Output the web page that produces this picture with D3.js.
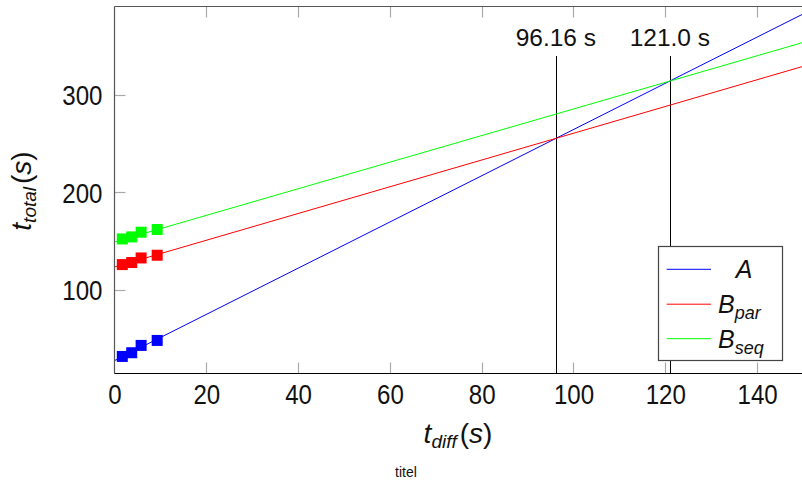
<!DOCTYPE html>
<html>
<head>
<meta charset="utf-8">
<script src="https://cdn.jsdelivr.net/npm/d3@7"></script>
<style>
  body { margin: 0; background: #fff; }
  svg { display: block; }
  text { font-family: "Liberation Sans", Arial, sans-serif; }
</style>
</head>
<body>
<svg id="chart" width="802" height="481"></svg>
<script>
// ---- data ----
const seriesNames = ["A", "B_par", "B_seq"];
const seriesColors = ["#0000ff", "#ff0000", "#00ff00"];
const xMeasured = [1.7, 3.75, 5.8, 9.3];
const yA    = [31.8, 35.6, 43.1, 48.2];
const yBpar = [126.0, 128.1, 132.8, 135.6];
const yBseq = [152.3, 154.4, 159.2, 162.0];
// linear fits: t_total = intercept + slope * t_diff
const fitIntercepts = [27.5, 123.5, 149.2];
const fitSlopes     = [2.37, 1.372, 1.364];
const crossings = [96.16, 121.0];
const crossingLabels = ["96.16 s", "121.0 s"];
const xTicks = [0, 20, 40, 60, 80, 100, 120, 140, 160];
const yTicks = [100, 200, 300];
const xDomain = [0, 155];
const yDomain = [14.3, 390.7];

(function () {
const svg = d3.select("#chart");
const pLeft = 114.5, pTop = 6.5, pBottom = 373.5, pRight = 114.5 + 155 * 4.59;
const x = d3.scaleLinear().domain(xDomain).range([pLeft, pRight]);
const y = d3.scaleLinear().domain(yDomain).range([pBottom, pTop]);

svg.append("defs").append("clipPath").attr("id", "clip")
  .append("rect").attr("x", pLeft).attr("y", pTop).attr("width", pRight - pLeft).attr("height", pBottom - pTop);

const tickLen = 11, tickColor = "#aaaaaa";
const g = svg.append("g");
xTicks.forEach(t => {
  if (t === 0) return;
  const px = Math.round(x(t)) + 0.5;
  g.append("line").attr("x1", px).attr("x2", px).attr("y1", pBottom).attr("y2", pBottom - tickLen)
    .attr("stroke", tickColor).attr("stroke-width", 1.2);
  g.append("line").attr("x1", px).attr("x2", px).attr("y1", pTop).attr("y2", pTop + tickLen)
    .attr("stroke", tickColor).attr("stroke-width", 1.2);
});
yTicks.forEach(t => {
  const py = Math.round(y(t)) + 0.5;
  g.append("line").attr("x1", pLeft).attr("x2", pLeft + tickLen).attr("y1", py).attr("y2", py)
    .attr("stroke", tickColor).attr("stroke-width", 1.2);
});

const narrow = sel => sel.attr("textLength", function () { return this.textContent.length * 13.4; })
  .attr("lengthAdjust", "spacingAndGlyphs");

const xAxis = d3.axisBottom(x).tickValues(xTicks.filter(t => t <= 150)).tickSize(0).tickPadding(0).tickFormat(d3.format("d"));
const xa = svg.append("g").attr("transform", `translate(0,${pBottom})`).call(xAxis);
xa.select(".domain").remove();
xa.selectAll("text").attr("font-size", 27.5).attr("fill", "#111")
  .attr("dy", null).attr("y", 30).call(narrow);

const yAxis = d3.axisLeft(y).tickValues(yTicks).tickSize(0).tickPadding(0).tickFormat(d3.format("d"));
const ya = svg.append("g").attr("transform", `translate(${pLeft},0)`).call(yAxis);
ya.select(".domain").remove();
ya.selectAll("text").attr("font-size", 27.5).attr("fill", "#111")
  .attr("x", -12).attr("dy", "0.36em").call(narrow);

crossings.forEach((c, i) => {
  const px = Math.round(x(c)) + 0.5;
  svg.append("line").attr("x1", px).attr("x2", px).attr("y1", 56).attr("y2", pBottom)
    .attr("stroke", "#000").attr("stroke-width", 1);
  svg.append("text").attr("x", x(c)).attr("y", 45.5).attr("text-anchor", "middle")
    .attr("font-size", 24.5).attr("fill", "#111").text(crossingLabels[i]);
});

const plot = svg.append("g").attr("clip-path", "url(#clip)");
fitIntercepts.forEach((a, i) => {
  const b = fitSlopes[i];
  plot.append("line")
    .attr("x1", x(xDomain[0])).attr("y1", y(a + b * xDomain[0]))
    .attr("x2", x(xDomain[1])).attr("y2", y(a + b * xDomain[1]))
    .attr("stroke", seriesColors[i]).attr("stroke-width", 1);
});

const ms = 11;
[yA, yBpar, yBseq].forEach((vals, i) => {
  plot.selectAll(null).data(vals).enter().append("rect")
    .attr("x", (d, j) => x(xMeasured[j]) - ms / 2)
    .attr("y", d => y(d) - ms / 2)
    .attr("width", ms).attr("height", ms)
    .attr("fill", seriesColors[i]);
});

svg.append("line").attr("x1", pLeft).attr("x2", 802).attr("y1", pTop).attr("y2", pTop).attr("stroke", "#555").attr("stroke-width", 1.2);
svg.append("line").attr("x1", pLeft).attr("x2", pLeft).attr("y1", pTop).attr("y2", pBottom).attr("stroke", "#555").attr("stroke-width", 1.2);
svg.append("line").attr("x1", pLeft).attr("x2", 802).attr("y1", pBottom).attr("y2", pBottom).attr("stroke", "#000").attr("stroke-width", 1.2);

const lg = svg.append("g");
lg.append("rect").attr("x", 658.5).attr("y", 246.5).attr("width", 124).attr("height", 114)
  .attr("fill", "#fff").attr("stroke", "#444").attr("stroke-width", 1.2);
const legY = [269.3, 304.2, 338.7];
seriesNames.forEach((n, i) => {
  lg.append("line").attr("x1", 666.7).attr("x2", 711).attr("y1", legY[i]).attr("y2", legY[i])
    .attr("stroke", seriesColors[i]).attr("stroke-width", 1);
  const parts = n.split("_");
  const t = lg.append("text").attr("y", legY[i] + 9).attr("font-size", 25).attr("font-style", "italic").attr("fill", "#111");
  if (parts.length === 1) {
    t.attr("x", 744).attr("text-anchor", "middle").text(parts[0]);
  } else {
    t.attr("x", 718);
    t.append("tspan").text(parts[0]);
    t.append("tspan").attr("font-size", 18).attr("dy", 6).text(parts[1]);
  }
});

const xl = svg.append("text").attr("x", 458).attr("y", 443).attr("text-anchor", "middle")
  .attr("font-size", 28).attr("fill", "#111");
xl.append("tspan").attr("font-style", "italic").text("t");
xl.append("tspan").attr("font-style", "italic").attr("font-size", 19).attr("dy", 5).text("diff");
xl.append("tspan").attr("dy", -5).attr("dx", 3).text("(");
xl.append("tspan").attr("font-style", "italic").text("s");
xl.append("tspan").text(")");

const yl = svg.append("text").attr("transform", "translate(31,191) rotate(-90)").attr("text-anchor", "middle")
  .attr("font-size", 28).attr("fill", "#111");
yl.append("tspan").attr("font-style", "italic").text("t");
yl.append("tspan").attr("font-style", "italic").attr("font-size", 19).attr("dy", 5).text("total");
yl.append("tspan").attr("dy", -5).attr("dx", 3).text("(");
yl.append("tspan").attr("font-style", "italic").text("s");
yl.append("tspan").text(")");

svg.append("text").attr("x", 406).attr("y", 477).attr("text-anchor", "middle")
  .attr("font-size", 14).attr("fill", "#111").text("titel");
})();
</script>
</body>
</html>
